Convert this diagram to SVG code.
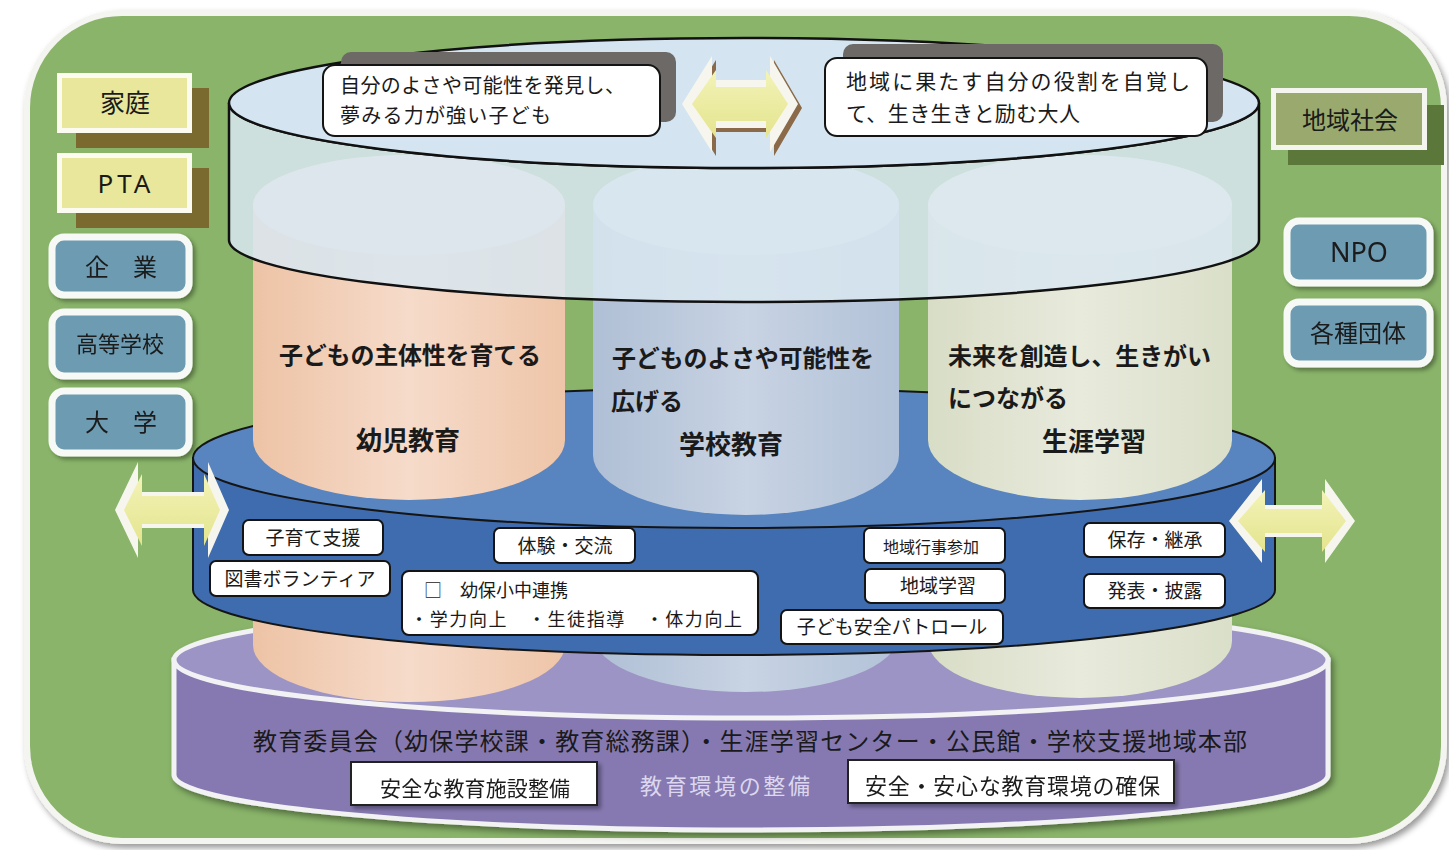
<svg xmlns="http://www.w3.org/2000/svg" width="1449" height="850" viewBox="0 0 1449 850">
<defs>
<style>
.t{font-family:"Noto Sans CJK JP","Noto Sans",sans-serif;fill:#1a1a1a}
.b{font-weight:700}
.ybox{fill:#e8e79b;stroke:#fbfbf2;stroke-width:5}
.bbox{fill:#6d9bb2;stroke:#f7f9f6;stroke-width:7}
.wl{fill:#fff;stroke:#141414;stroke-width:2}
.wb{fill:#fff;stroke:#222;stroke-width:2}
.gs{fill:#6d6966}
.ao{fill:#f6f6ee}
.ai{fill:url(#ay)}
.as{fill:#8a6a48}
</style>
<filter id="sh" x="-10%" y="-10%" width="130%" height="140%"><feDropShadow dx="3" dy="3" stdDeviation="2" flood-color="#000" flood-opacity="0.35"/></filter>
<filter id="sh2" x="-5%" y="-5%" width="115%" height="120%"><feDropShadow dx="3" dy="4" stdDeviation="3" flood-color="#000" flood-opacity="0.4"/></filter>
<linearGradient id="ay" x1="0" y1="0" x2="0" y2="1"><stop offset="0" stop-color="#f3f3b8"/><stop offset="1" stop-color="#e4e48e"/></linearGradient>
<linearGradient id="gp" x1="0" y1="0" x2="1" y2="0"><stop offset="0" stop-color="#edc3a5"/><stop offset="0.5" stop-color="#f6dbca"/><stop offset="1" stop-color="#eec5a8"/></linearGradient>
<linearGradient id="gm" x1="0" y1="0" x2="1" y2="0"><stop offset="0" stop-color="#afbfd5"/><stop offset="0.5" stop-color="#c8d3e3"/><stop offset="1" stop-color="#b2c2d8"/></linearGradient>
<linearGradient id="gr" x1="0" y1="0" x2="1" y2="0"><stop offset="0" stop-color="#d8ddc6"/><stop offset="0.5" stop-color="#e8eadc"/><stop offset="1" stop-color="#dadfc9"/></linearGradient>
</defs>

<rect width="1449" height="850" fill="#ffffff"/>
<g id="background">
<rect x="27" y="13" width="1417" height="828" rx="95" fill="#89b469" stroke="#f4f4f0" stroke-width="6" filter="url(#sh2)"/>
</g>

<g id="katei">
<rect x="76" y="88" width="133" height="60" fill="#7a6a30"/>
<rect class="ybox" x="59.5" y="75.5" width="130" height="55"/>
<text class="t" x="125" y="112" font-size="25" text-anchor="middle">家庭</text>
</g>
<g id="pta">
<rect x="76" y="168" width="133" height="60" fill="#7a6a30"/>
<rect class="ybox" x="59.5" y="155.5" width="130" height="55"/>
<text class="t" x="126" y="193" font-size="26" text-anchor="middle" letter-spacing="4" style="font-family:'Noto Sans','Liberation Sans',sans-serif">PTA</text>
</g>
<g id="kigyo" filter="url(#sh)">
<rect class="bbox" x="52" y="237" width="137" height="58" rx="12"/>
<text class="t" x="121" y="276" font-size="24" text-anchor="middle">企　業</text>
</g>
<g id="koto" filter="url(#sh)">
<rect class="bbox" x="52" y="312" width="137" height="64" rx="12"/>
<text class="t" x="120" y="352" font-size="22" text-anchor="middle">高等学校</text>
</g>
<g id="daigaku" filter="url(#sh)">
<rect class="bbox" x="52" y="391" width="137" height="62" rx="12"/>
<text class="t" x="121" y="431" font-size="24" text-anchor="middle">大　学</text>
</g>

<g id="chiiki">
<rect x="1288" y="105" width="156" height="60" fill="#5b783a"/>
<rect x="1273.5" y="90.5" width="151" height="57" fill="#9aaa6e" stroke="#f4f5ee" stroke-width="5"/>
<text class="t" x="1350" y="129" font-size="24" text-anchor="middle">地域社会</text>
</g>
<g id="npo" filter="url(#sh)">
<rect class="bbox" x="1287" y="221" width="143" height="62" rx="12"/>
<text class="t" x="1359" y="262" font-size="27" text-anchor="middle" style="font-family:'Noto Sans','Liberation Sans',sans-serif">NPO</text>
</g>
<g id="kakushu" filter="url(#sh)">
<rect class="bbox" x="1287" y="302" width="143" height="62" rx="12"/>
<text class="t" x="1358" y="342" font-size="24" text-anchor="middle">各種団体</text>
</g>

<g id="base" filter="url(#sh2)">
<path d="M174,660 L174,775 A577,55 0 0 0 1328,775 L1328,660 Z" fill="#8679b1" stroke="#f2f2f4" stroke-width="5"/>
<ellipse cx="751" cy="660" rx="577" ry="58" fill="#9c94c4" stroke="#f2f2f4" stroke-width="5"/>
</g>

<g id="pillars-lower">
<path d="M253,205 L253,645 A156,57 0 0 0 565,645 L565,205 Z" fill="url(#gp)"/>
<path d="M593,205 L593,635 A153,57 0 0 0 899,635 L899,205 Z" fill="url(#gm)"/>
<path d="M928,205 L928,641 A152,57 0 0 0 1232,641 L1232,205 Z" fill="url(#gr)"/>
</g>

<g id="band">
<path d="M193,458 L193,590 A541,65 0 0 0 1275,590 L1275,458 Z" fill="#3e6cae" stroke="#151515" stroke-width="2"/>
<ellipse cx="734" cy="458" rx="541" ry="70" fill="#5884c0" stroke="#151515" stroke-width="2"/>
</g>

<g id="youji">
<path d="M253,205 L253,440 A156,60 0 0 0 565,440 L565,205 A156,50 0 0 0 253,205 Z" fill="url(#gp)"/>
<ellipse cx="409" cy="205" rx="156" ry="50" fill="#f6e2d4"/>
<text class="t b" x="410" y="364" font-size="24" text-anchor="middle" textLength="262">子どもの主体性を育てる</text>
<text class="t b" x="408" y="450" font-size="26" text-anchor="middle">幼児教育</text>
</g>
<g id="gakko">
<path d="M593,205 L593,455 A153,60 0 0 0 899,455 L899,205 A153,50 0 0 0 593,205 Z" fill="url(#gm)"/>
<ellipse cx="746" cy="205" rx="153" ry="50" fill="#d6e0ec"/>
<text class="t b" x="612" y="367" font-size="24" textLength="262">子どものよさや可能性を</text>
<text class="t b" x="611" y="410" font-size="24">広げる</text>
<text class="t b" x="731" y="454" font-size="26" text-anchor="middle">学校教育</text>
</g>
<g id="shogai">
<path d="M928,205 L928,440 A152,60 0 0 0 1232,440 L1232,205 A152,50 0 0 0 928,205 Z" fill="url(#gr)"/>
<ellipse cx="1080" cy="205" rx="152" ry="50" fill="#ecefe2"/>
<text class="t b" x="948" y="365" font-size="24" textLength="263">未来を創造し、生きがい</text>
<text class="t b" x="948" y="407" font-size="24">につながる</text>
<text class="t b" x="1094" y="451" font-size="26" text-anchor="middle">生涯学習</text>
</g>

<g id="band-labels">
<g id="kosodate"><rect class="wl" x="243" y="520" width="140" height="35" rx="6"/><text class="t" x="313" y="545" font-size="19" text-anchor="middle">子育て支援</text></g>
<g id="tosho"><rect class="wl" x="210" y="561" width="180" height="35" rx="6"/><text class="t" x="300" y="586" font-size="19" text-anchor="middle">図書ボランティア</text></g>
<g id="taiken"><rect class="wl" x="494" y="528" width="141" height="35" rx="6"/><text class="t" x="565" y="553" font-size="19" text-anchor="middle">体験・交流</text></g>
<g id="renkei"><rect class="wl" x="402" y="571" width="356" height="64" rx="7"/>
<text class="t" x="424" y="597" font-size="18">□　幼保小中連携</text>
<text class="t" x="410" y="626" font-size="18" textLength="332">・学力向上　・生徒指導　・体力向上</text></g>
<g id="gyoji"><rect class="wl" x="864" y="528" width="141" height="35" rx="6"/><text class="t" x="931" y="553" font-size="16" text-anchor="middle">地域行事参加</text></g>
<g id="chiikigaku"><rect class="wl" x="865" y="569" width="140" height="34" rx="6"/><text class="t" x="938" y="593" font-size="19" text-anchor="middle">地域学習</text></g>
<g id="patrol"><rect class="wl" x="781" y="610" width="222" height="34" rx="6"/><text class="t" x="892" y="634" font-size="19" text-anchor="middle">子ども安全パトロール</text></g>
<g id="hozon"><rect class="wl" x="1084" y="523" width="141" height="34" rx="6"/><text class="t" x="1155" y="547" font-size="19" text-anchor="middle">保存・継承</text></g>
<g id="happyo"><rect class="wl" x="1084" y="574" width="141" height="34" rx="6"/><text class="t" x="1155" y="598" font-size="19" text-anchor="middle">発表・披露</text></g>
</g>

<g id="top-cylinder">
<path d="M229,103 A515,65 0 0 0 1259,103 L1259,240 A515,62 0 0 1 229,240 Z" fill="#d9e6f0" fill-opacity="0.86" stroke="#111" stroke-width="2.5"/>
<ellipse cx="744" cy="103" rx="515" ry="65" fill="#d4e5f1" stroke="#111" stroke-width="2.5"/>
</g>

<g id="callout-child">
<rect class="gs" x="341" y="52" width="335" height="70" rx="10"/>
<rect class="wl" x="323" y="65" width="337" height="71" rx="12" stroke-width="2.5"/>
<text class="t" x="340" y="93" font-size="20" textLength="285">自分のよさや可能性を発見し、</text>
<text class="t" x="340" y="123" font-size="20" textLength="211">夢みる力が強い子ども</text>
</g>
<g id="callout-adult">
<rect class="gs" x="843" y="44" width="380" height="78" rx="10"/>
<rect class="wl" x="825" y="58" width="382" height="78" rx="12" stroke-width="2.5"/>
<text class="t" x="846" y="89" font-size="21" textLength="344">地域に果たす自分の役割を自覚し</text>
<text class="t" x="846" y="121" font-size="21" textLength="234">て、生き生きと励む大人</text>
</g>

<g id="connectors">
<g id="arrow-top">
<polygon class="as" points="686,108 716,60 716,84 774,84 774,60 802,108 774,156 774,132 716,132 716,156"/>
<polygon class="ao" points="682,104 712,56 712,80 770,80 770,56 798,104 770,152 770,128 712,128 712,152"/>
<polygon class="ai" points="692,104 716,70 716,87 766,87 766,70 788,104 766,138 766,121 716,121 716,138"/>
</g>
<g id="arrow-left">
<polygon class="ao" points="115,510 138,462 138,492 208,492 208,462 229,510 208,558 208,528 138,528 138,558"/>
<polygon class="ai" points="124,510 142,474 142,496 204,496 204,474 220,510 204,546 204,524 142,524 142,546"/>
</g>
<g id="arrow-right">
<polygon class="ao" points="1229,521 1262,479 1262,505 1325,505 1325,479 1355,521 1325,563 1325,537 1262,537 1262,563"/>
<polygon class="ai" points="1238,521 1265,490 1265,509 1322,509 1322,490 1346,521 1322,552 1322,533 1265,533 1265,552"/>
</g>
</g>

<g id="base-texts">
<text class="t" x="253" y="750" font-size="24" textLength="994">教育委員会（幼保学校課・教育総務課）・生涯学習センター・公民館・学校支援地域本部</text>
<g id="anzen-shisetsu" filter="url(#sh)"><rect class="wb" x="351" y="762" width="246" height="43"/><text class="t" x="380" y="796" font-size="21" textLength="190">安全な教育施設整備</text></g>
<text class="t" x="640" y="794" font-size="22" textLength="170" style="fill:#dcd7ee">教育環境の整備</text>
<g id="anzen-kakuho" filter="url(#sh)"><rect class="wb" x="848" y="760" width="326" height="43"/><text class="t" x="865" y="794" font-size="22" textLength="295">安全・安心な教育環境の確保</text></g>
</g>
</svg>
